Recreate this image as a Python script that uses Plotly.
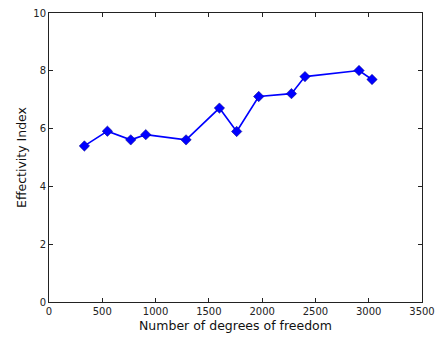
import plotly.graph_objects as go

dof = [332, 548, 767, 908, 1286, 1599, 1761, 1968, 2275, 2402, 2909, 3031]
effectivity = [5.40, 5.91, 5.61, 5.79, 5.61, 6.71, 5.90, 7.11, 7.21, 7.80, 8.01, 7.70]

x_ticks = [0, 500, 1000, 1500, 2000, 2500, 3000, 3500]
y_ticks = [0, 2, 4, 6, 8, 10]

x_title = "Number of degrees of freedom"
y_title = "Effectivity Index"

fig = go.Figure(
    go.Scatter(
        x=dof, y=effectivity, mode="lines+markers",
        line=dict(color="#0000ff", width=1.6),
        marker=dict(symbol="diamond", size=8, color="#0000ff",
                    line=dict(color="#000080", width=0.5)),
    )
)

axis_common = dict(
    showline=True, linecolor="#222", linewidth=1, mirror="ticks",
    ticks="inside", ticklen=4, tickcolor="#222", showgrid=False, zeroline=False,
    automargin=False,
    tickfont=dict(family="DejaVu Sans", size=10, color="#222"),
)

title_font = dict(family="DejaVu Sans", size=12.5, color="#111")

fig.update_layout(
    width=437, height=339,
    margin=dict(l=49, r=15, t=13, b=37),
    paper_bgcolor="white", plot_bgcolor="white",
    showlegend=False,
    xaxis=dict(range=[0, 3500], tickvals=x_ticks, **axis_common),
    yaxis=dict(range=[0, 10], tickvals=y_ticks, **axis_common),
    annotations=[
        dict(text=x_title, xref="paper", yref="paper", x=0.5, y=-0.08,
             xanchor="center", yanchor="middle", showarrow=False, font=title_font),
        dict(text=y_title, xref="paper", yref="paper", x=-0.0737, y=0.5,
             xanchor="center", yanchor="middle", textangle=-90,
             showarrow=False, font=title_font),
    ],
)

fig.write_html("out.html")
